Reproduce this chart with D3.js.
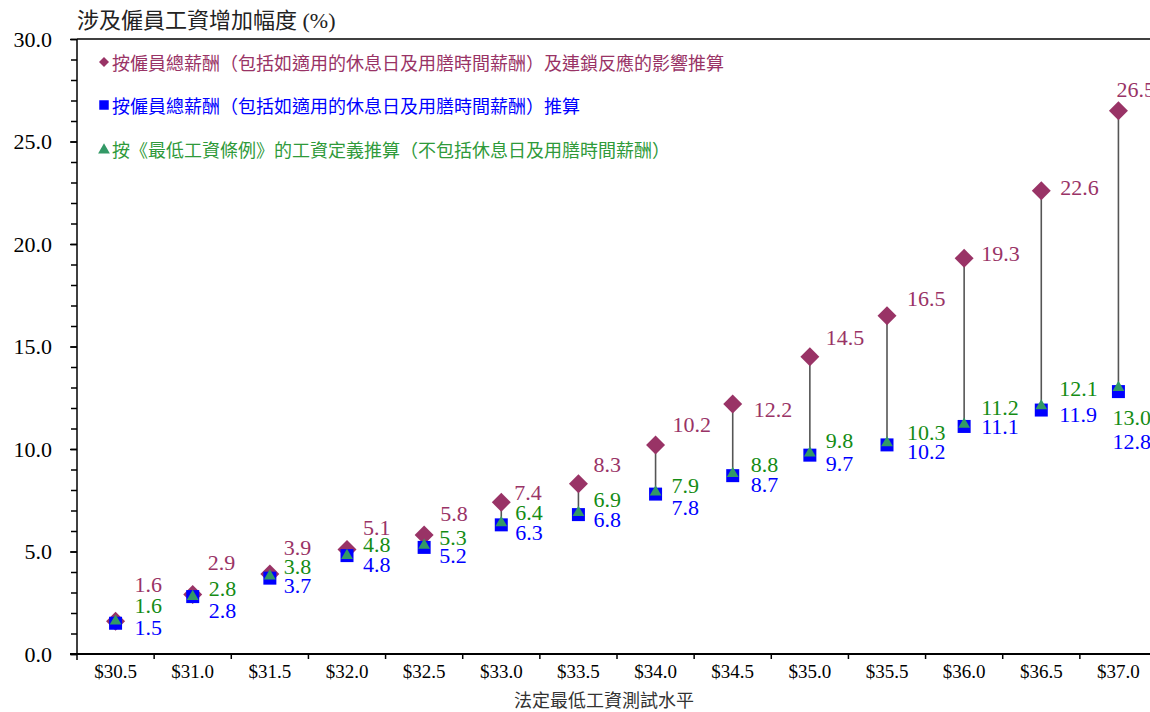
<!DOCTYPE html>
<html>
<head>
<meta charset="utf-8">
<script src="https://cdn.jsdelivr.net/npm/d3@7"></script>
<style>
  html, body { margin: 0; padding: 0; background: #fff; overflow: hidden; }
  svg { display: block; }
  text { font-family: "Liberation Serif", "Times New Roman", "Noto Sans CJK TC", serif; }
</style>
</head>
<body>
<svg id="chart" width="1150" height="712"></svg>
<script>
// ---------------- data ----------------
const categories = ["$30.5","$31.0","$31.5","$32.0","$32.5","$33.0","$33.5","$34.0","$34.5","$35.0","$35.5","$36.0","$36.5","$37.0"];
const withChainEffect = [1.6,2.9,3.9,5.1,5.8,7.4,8.3,10.2,12.2,14.5,16.5,19.3,22.6,26.5];
const totalPay        = [1.5,2.8,3.7,4.8,5.2,6.3,6.8,7.8,8.7,9.7,10.2,11.1,11.9,12.8];
const ordinanceDef    = [1.6,2.8,3.8,4.8,5.3,6.4,6.9,7.9,8.8,9.8,10.3,11.2,12.1,13.0];
const yMajorTicks = [0,5,10,15,20,25,30];
const seriesNames = [
  "按僱員總薪酬（包括如適用的休息日及用膳時間薪酬）及連鎖反應的影響推算",
  "按僱員總薪酬（包括如適用的休息日及用膳時間薪酬）推算",
  "按《最低工資條例》的工資定義推算（不包括休息日及用膳時間薪酬）"
];
const yTitle = "涉及僱員工資增加幅度 (%)";
const xTitle = "法定最低工資測試水平";

// ---------------- label nudges (layout, px) ----------------
const pinkDx = [19,15,14,16,16,13,15,17,21,16,20,17,19,-2];
const pinkDy = [-37,-32,-27,-22,-22,-10,-19,-20,6,-19,-17,-5,-3,-21];
const lowDx  = [19,16,14,16,15,14,15,16,18,16,20,17,18,-6];
const greenDy = [-16,-8,-10,-11,-8,-10,-13,-7,-9,-13,-10,-17,-17,30];
const blueDy  = [4,14,7,9,8,8,5,13,9,8,7,0,4,50];

// ---------------- styles ----------------
const PINK = "#993366", BLUE = "#0000ff", GREEN_MARK = "#339966", GREEN_TXT = "#148c14";

const svg = d3.select("#chart");
const mLeft = 77, mRight = 1157, mTop = 39, mBottom = 654;

const x = d3.scaleBand().domain(categories).range([mLeft, mRight]).padding(0);
const y = d3.scaleLinear().domain([0, 30]).range([mBottom, mTop]);
const cx = c => x(c) + x.bandwidth() / 2;

// top border
svg.append("line").attr("x1", mLeft).attr("x2", mRight).attr("y1", mTop).attr("y2", mTop)
  .attr("stroke", "#000").attr("stroke-width", 1.5);

// y axis minor ticks
svg.append("g").attr("transform", `translate(${mLeft},0)`)
  .call(d3.axisLeft(y).tickValues(d3.range(0, 31, 1)).tickSize(6).tickFormat(""))
  .call(g => g.select(".domain").remove())
  .call(g => g.selectAll("line").attr("stroke", "#000").attr("stroke-width", 1.5));

// y axis major
svg.append("g").attr("transform", `translate(${mLeft},0)`)
  .call(d3.axisLeft(y).tickValues(yMajorTicks).tickSize(7).tickPadding(18).tickFormat(d3.format(".1f")))
  .call(g => g.select(".domain").attr("stroke", "#000").attr("stroke-width", 1.5)
      .attr("d", `M0,${mTop}V${mBottom + 6}`))
  .call(g => g.selectAll("line").attr("stroke", "#000").attr("stroke-width", 1.5))
  .call(g => g.selectAll("text").attr("font-size", 22).attr("fill", "#000")
      .style("font-family", "'Liberation Serif', serif"));

// x axis labels
svg.append("g").attr("transform", `translate(0,${mBottom})`)
  .call(d3.axisBottom(x).tickSize(0).tickPadding(11))
  .call(g => g.select(".domain").attr("stroke", "#000").attr("stroke-width", 2)
      .attr("d", `M${mLeft - 7},0H${mRight}`))
  .call(g => g.selectAll("text").attr("font-size", 19).attr("fill", "#000")
      .style("font-family", "'Liberation Serif', serif"));

// x axis boundary ticks
svg.append("g").selectAll("line").data(categories).join("line")
  .attr("x1", d => x(d) + x.bandwidth()).attr("x2", d => x(d) + x.bandwidth())
  .attr("y1", mBottom).attr("y2", mBottom + 5)
  .attr("stroke", "#000").attr("stroke-width", 1.5);

// titles
svg.append("text").attr("x", mLeft).attr("y", 20).attr("dominant-baseline", "central")
  .attr("font-size", 22).attr("fill", "#222").text(yTitle);
svg.append("text").attr("x", 604).attr("y", 701).attr("text-anchor", "middle")
  .attr("dominant-baseline", "central").attr("font-size", 18).attr("fill", "#333").text(xTitle);

// high-low lines
svg.append("g").selectAll("line").data(categories).join("line")
  .attr("x1", d => cx(d)).attr("x2", d => cx(d))
  .attr("y1", (d, i) => y(withChainEffect[i]))
  .attr("y2", (d, i) => y(Math.min(totalPay[i], ordinanceDef[i])))
  .attr("stroke", "#555").attr("stroke-width", 1.6);

const diamond = d3.symbol().type(d3.symbolSquare).size(180);
const square = d3.symbol().type(d3.symbolSquare).size(169);
const tri = d3.symbol().type(d3.symbolTriangle).size(60);

// diamonds
svg.append("g").selectAll("path").data(categories).join("path")
  .attr("d", diamond)
  .attr("transform", (d, i) => `translate(${cx(d)},${y(withChainEffect[i])}) rotate(45)`)
  .attr("fill", PINK);

// squares
svg.append("g").selectAll("path").data(categories).join("path")
  .attr("d", square)
  .attr("transform", (d, i) => `translate(${cx(d)},${y(totalPay[i])})`)
  .attr("fill", BLUE);

// triangles
svg.append("g").selectAll("path").data(categories).join("path")
  .attr("d", tri)
  .attr("transform", (d, i) => `translate(${cx(d)},${y(ordinanceDef[i])})`)
  .attr("fill", GREEN_MARK);

// data labels
const lab = svg.append("g").attr("font-size", 22).style("font-family", "'Liberation Serif', serif");
lab.selectAll("text.p").data(categories).join("text").attr("class", "p")
  .attr("x", (d, i) => cx(d) + pinkDx[i]).attr("y", (d, i) => y(withChainEffect[i]) + pinkDy[i])
  .attr("dominant-baseline", "central").attr("fill", PINK)
  .text((d, i) => d3.format(".1f")(withChainEffect[i]));
lab.selectAll("text.g").data(categories).join("text").attr("class", "g")
  .attr("x", (d, i) => cx(d) + lowDx[i]).attr("y", (d, i) => y(ordinanceDef[i]) + greenDy[i])
  .attr("dominant-baseline", "central").attr("fill", GREEN_TXT)
  .text((d, i) => d3.format(".1f")(ordinanceDef[i]));
lab.selectAll("text.b").data(categories).join("text").attr("class", "b")
  .attr("x", (d, i) => cx(d) + lowDx[i]).attr("y", (d, i) => y(totalPay[i]) + blueDy[i])
  .attr("dominant-baseline", "central").attr("fill", BLUE)
  .text((d, i) => d3.format(".1f")(totalPay[i]));

// legend
const legColors = [PINK, BLUE, "#2f9a3a"];
const legMarkColors = [PINK, BLUE, GREEN_MARK];
const legSyms = [
  d3.symbol().type(d3.symbolSquare).size(50),
  d3.symbol().type(d3.symbolSquare).size(90),
  d3.symbol().type(d3.symbolTriangle).size(60)
];
const legY = [62, 105, 149];
const leg = svg.append("g");
seriesNames.forEach((name, i) => {
  leg.append("path").attr("d", legSyms[i])
    .attr("transform", `translate(104,${legY[i] + (i === 2 ? 1 : 0)})${i === 0 ? " rotate(45)" : ""}`)
    .attr("fill", legMarkColors[i]);
  leg.append("text").attr("x", 112).attr("y", legY[i]).attr("dominant-baseline", "central")
    .attr("font-size", 18).attr("fill", legColors[i])
    .style("font-family", "'Noto Sans CJK TC', sans-serif").text(name);
});
</script>
</body>
</html>
